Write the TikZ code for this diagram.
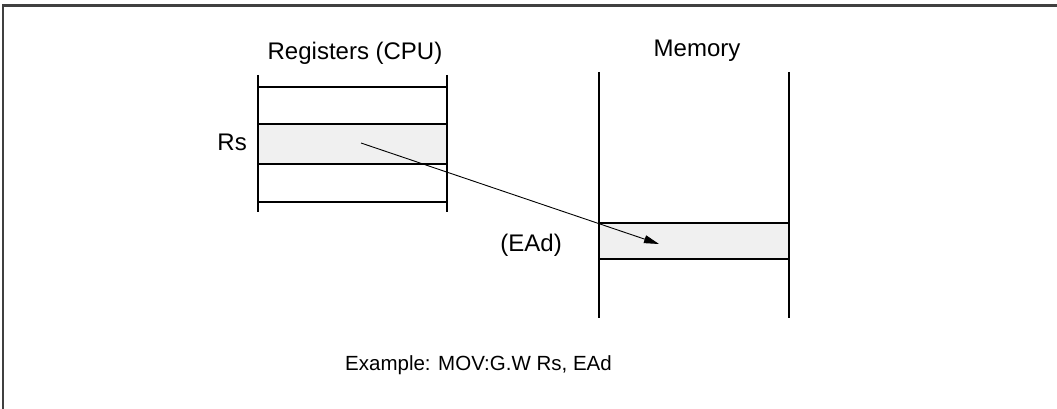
\documentclass[tikz,border=0pt]{standalone}
\usepackage{fontspec}
\setmainfont{Liberation Sans}
\usetikzlibrary{arrows.meta}

\begin{document}
\begin{tikzpicture}[x=1pt, y=-1pt,
        lbl/.style={inner sep=0pt, font=\fontsize{24}{28}\selectfont},
        wall/.style={draw=black, line width=1.4pt},
        cell/.style={fill=black!6}]
        \useasboundingbox (0,0) rectangle (1057,409);

        % Frame
        \draw[black!75, line width=2.2pt] (3,409) -- (3,5.5) -- (1057,5.5);

        % Registers
        \fill[cell] (258,124) rectangle (447,164);
        \draw[wall] (258,75) -- (258,212) (447,75) -- (447,212);
        \foreach \y in {87,124,164,202}
            \draw[wall] (258,\y) -- (447,\y);

        % Memory
        \fill[cell] (599,223) rectangle (789,259);
        \draw[wall] (599,72) -- (599,318) (789,72) -- (789,318);
        \foreach \y in {223,259}
            \draw[wall] (599,\y) -- (789,\y);

        % Labels
        \node[lbl, anchor=base] (regtitle) at (355,60) {Registers (CPU)};
        \node[lbl, anchor=base] (memtitle) at (697,57) {Memory};
        \node[lbl, anchor=base east] (rslabel) at (247,150) {Rs};
        \node[lbl, anchor=base east] (eadlabel) at (562,251) {(EAd)};
        \node[inner sep=0pt, font=\fontsize{20.5}{24}\selectfont, anchor=base west] (example) at (345,370) {Example: MOV:G.W Rs, EAd};

        % Transfer
        \coordinate (rs) at (361,143);
        \coordinate (ead) at (659,244);
        \draw[line width=0.9pt, -{Triangle[length=15pt, width=8pt]}] (rs) -- (ead);
    \end{tikzpicture}
\end{document}
